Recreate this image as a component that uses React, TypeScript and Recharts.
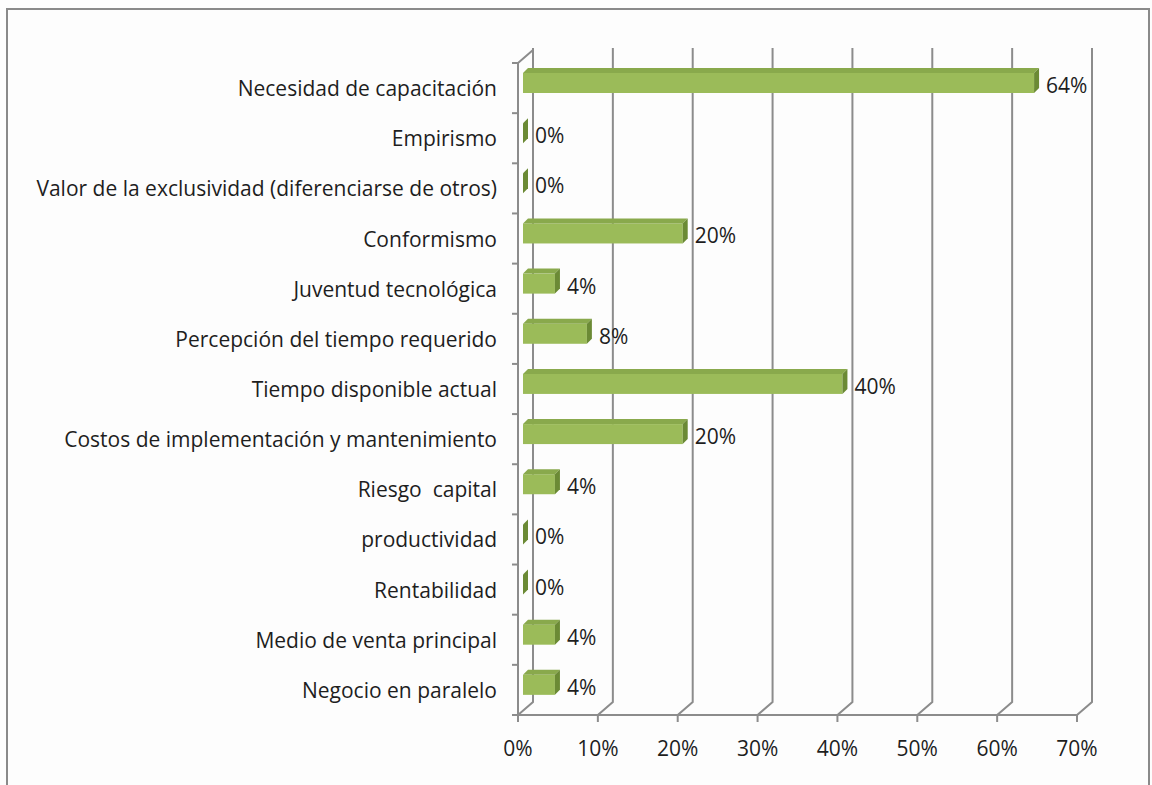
import { BarChart, Bar, XAxis, YAxis, CartesianGrid, LabelList } from "recharts";

const categories = [
  "Necesidad de capacitación",
  "Empirismo",
  "Valor de la exclusividad (diferenciarse de otros)",
  "Conformismo",
  "Juventud tecnológica",
  "Percepción del tiempo requerido",
  "Tiempo disponible actual",
  "Costos de implementación y mantenimiento",
  "Riesgo  capital",
  "productividad",
  "Rentabilidad",
  "Medio de venta principal",
  "Negocio en paralelo",
];
const percentages = [64, 0, 0, 20, 4, 8, 40, 20, 4, 0, 0, 4, 4];
const xTicks = [0, 10, 20, 30, 40, 50, 60, 70];

const data = categories.map((name, i) => ({ name, value: percentages[i] }));

const W = 1152;
const H = 785;
const MARGIN = { top: 63, right: 75, bottom: 30, left: 0 };
const Y_AXIS_W = 518;
const X_AXIS_H = 40;
const PLOT_H = H - MARGIN.top - MARGIN.bottom - X_AXIS_H;
const AXIS_X = MARGIN.left + Y_AXIS_W;

// 3d wall depth
const WALL_DX = 15;
const WALL_DY = 13;
const WALL_DY_TOP = 15;
// bar position inside the depth
const BAR_DX = 5;
const BAR_DY = 5;
const BAR_DEPTH = 5;

const GRID = "#8c8c8c";
const TEXT = "#1e1e1e";
const FONT = "'Open Sans', sans-serif";
const FONT_SIZE = 21;

const GridLine = (p: any) => {
  const { x1, y1, y2 } = p;
  const d = `M${x1},${y2} L${x1 + WALL_DX},${y2 - WALL_DY} L${x1 + WALL_DX},${y1 - WALL_DY_TOP}`;
  return (
    <g key={p.key}>
      <path d={d} stroke={GRID} strokeWidth={2} fill="none" />
      {Math.abs(x1 - AXIS_X) < 1 && (
        <path
          d={`M${x1 - 6},${y1} L${x1},${y1} L${x1 + WALL_DX},${y1 - WALL_DY_TOP + 2}`}
          stroke={GRID}
          strokeWidth={2}
          fill="none"
        />
      )}
    </g>
  );
};

const CategoryTick = (p: any) => {
  const { y, payload, index } = p;
  const band = PLOT_H / categories.length;
  const last = index === categories.length - 1;
  return (
    <g>
      <line x1={AXIS_X - 6} x2={AXIS_X} y1={y - band / 2} y2={y - band / 2} stroke={GRID} strokeWidth={2} />
      {last && (
        <line x1={AXIS_X - 6} x2={AXIS_X} y1={y + band / 2} y2={y + band / 2} stroke={GRID} strokeWidth={2} />
      )}
      <text
        x={AXIS_X - 21}
        y={y + 8}
        textAnchor="end"
        fill={TEXT}
        fontSize={FONT_SIZE}
        fontFamily={FONT}
        style={{ whiteSpace: "pre" }}
      >
        {payload.value}
      </text>
    </g>
  );
};

const Bar3D = (p: any) => {
  const { x, y, width } = p;
  const w = Math.max(0, width);
  const fx = x + BAR_DX;
  const fy = y - BAR_DY;
  const h = 20;
  const top = `${fx},${fy} ${fx + w},${fy} ${fx + w + BAR_DEPTH},${fy - BAR_DEPTH} ${fx + BAR_DEPTH},${fy - BAR_DEPTH}`;
  const side = `${fx + w},${fy} ${fx + w + BAR_DEPTH},${fy - BAR_DEPTH} ${fx + w + BAR_DEPTH},${fy + h - BAR_DEPTH} ${fx + w},${fy + h}`;
  return (
    <g>
      {w > 0 && <rect x={fx} y={fy} width={w} height={h} fill="#9bbb59" />}
      {w > 0 && <polygon points={top} fill="#89a94c" />}
      <polygon points={side} fill="#6b8a35" />
    </g>
  );
};

const ValueLabel = (p: any) => {
  const { x, y, width, value } = p;
  return (
    <text
      x={x + width + BAR_DX + 12}
      y={y + 15}
      textAnchor="start"
      fill={TEXT}
      fontSize={FONT_SIZE}
      fontFamily={FONT}
    >
      {`${value}%`}
    </text>
  );
};

export default function App() {
  return (
    <div style={{ position: "fixed", left: 0, top: 0, width: W, height: H, background: "#fdfdfd" }}>
      <div
        style={{
          position: "absolute",
          left: 6,
          top: 8,
          width: 1144,
          height: 790,
          boxSizing: "border-box",
          borderTop: "2px solid #8a8a8a",
          borderLeft: "2px solid #8a8a8a",
          borderRight: "2px solid #8a8a8a",
        }}
      />
      <div style={{ position: "absolute", left: 0, top: 0 }}>
        <BarChart width={W} height={H} data={data} layout="vertical" margin={MARGIN} barSize={20}>
          <CartesianGrid horizontal={false} vertical={GridLine} stroke={GRID} />
          <XAxis
            type="number"
            domain={[0, 70]}
            ticks={xTicks}
            height={X_AXIS_H}
            tickFormatter={(v: number) => `${v}%`}
            axisLine={{ stroke: GRID, strokeWidth: 2 }}
            tickLine={{ stroke: GRID, strokeWidth: 2 }}
            tickSize={7}
            tickMargin={19}
            tick={{ fill: TEXT, fontSize: FONT_SIZE, fontFamily: FONT }}
          />
          <YAxis
            type="category"
            dataKey="name"
            width={Y_AXIS_W}
            interval={0}
            axisLine={{ stroke: GRID, strokeWidth: 2 }}
            tickLine={false}
            tick={CategoryTick}
          />
          <Bar dataKey="value" shape={Bar3D} isAnimationActive={false}>
            <LabelList dataKey="value" content={ValueLabel} />
          </Bar>
        </BarChart>
      </div>
    </div>
  );
}
